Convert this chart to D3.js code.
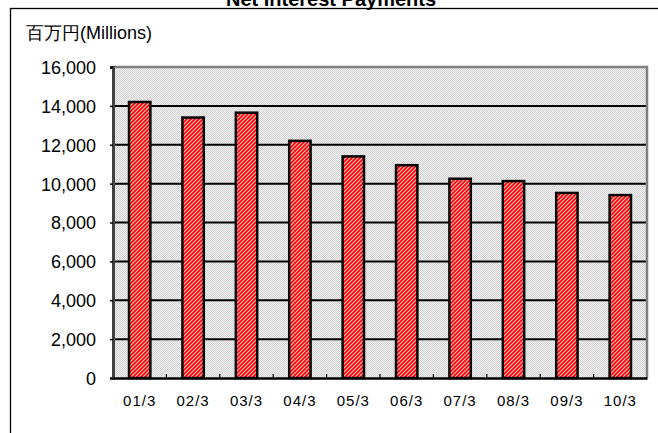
<!DOCTYPE html>
<html>
<head>
<meta charset="utf-8">
<script src="https://cdn.jsdelivr.net/npm/d3@7"></script>
<style>
  body { margin: 0; background: #fff; }
  text { font-family: "Liberation Sans", Arial, sans-serif; fill: #000; }
</style>
</head>
<body>
<script>
(function all (){
  //chart data
  var categories = ["01/3", "02/3", "03/3", "04/3", "05/3", "06/3", "07/3", "08/3", "09/3", "10/3"];
  var payments = [14200, 13400, 13650, 12200, 11400, 10950, 10250, 10130, 9520, 9410];
  var yTicks = [0, 2000, 4000, 6000, 8000, 10000, 12000, 14000, 16000];

  window.onload = drawChart();

  function drawChart(){
    var width = 658, height = 433;
    var plot = {left: 113, top: 67, right: 647, bottom: 378};

    var svg = d3.select("body").append("svg")
      .attr("width", width)
      .attr("height", height);

    var defs = svg.append("defs");

    //dotted gray background of the plot area
    var dots = defs.append("pattern")
      .attr("id", "dots")
      .attr("patternUnits", "userSpaceOnUse")
      .attr("width", 2).attr("height", 2);
    dots.append("rect").attr("width", 2).attr("height", 2).attr("fill", "#efefef");
    dots.append("rect").attr("width", 1).attr("height", 1).attr("fill", "#d4d4d4");
    dots.append("rect").attr("x", 1).attr("y", 1).attr("width", 1).attr("height", 1).attr("fill", "#d4d4d4");

    //red bars with white upward diagonal stripes
    var stripes = defs.append("pattern")
      .attr("id", "stripes")
      .attr("patternUnits", "userSpaceOnUse")
      .attr("width", 4).attr("height", 4);
    stripes.append("rect").attr("width", 4).attr("height", 4).attr("fill", "#ff0000");
    stripes.append("path")
      .attr("d", "M-1,1 L1,-1 M0,4 L4,0 M3,5 L5,3")
      .attr("stroke", "#ffc8c8")
      .attr("stroke-width", 1.1);

    //outer frame
    svg.append("rect")
      .attr("x", 10.5).attr("y", 8.5)
      .attr("width", 660).attr("height", 440)
      .attr("fill", "none")
      .attr("stroke", "#000")
      .attr("stroke-width", 1.3);

    //title, cut at the top like the original
    svg.append("text")
      .attr("x", 331).attr("y", 6)
      .attr("text-anchor", "middle")
      .style("font-size", "20px")
      .style("font-weight", "bold")
      .text("Net Interest Payments");

    //unit label
    svg.append("text")
      .attr("x", 26).attr("y", 39)
      .style("font-size", "18px")
      .text("百万円(Millions)");

    var x = d3.scaleBand()
      .domain(categories)
      .range([plot.left, plot.right])
      .paddingInner(0.6)
      .paddingOuter(0.3);

    var xOuter = d3.scaleBand()
      .domain(categories)
      .range([plot.left, plot.right]);

    var y = d3.scaleLinear()
      .domain([0, 16000])
      .range([plot.bottom, plot.top]);

    //plot area
    svg.append("rect")
      .attr("x", plot.left).attr("y", plot.top)
      .attr("width", plot.right - plot.left)
      .attr("height", plot.bottom - plot.top)
      .attr("fill", "url(#dots)");

    //horizontal grid lines
    svg.append("g")
      .selectAll("line")
      .data(yTicks.slice(1, -1))
      .enter()
      .append("line")
      .attr("x1", plot.left).attr("x2", plot.right)
      .attr("y1", function(d){ return y(d); })
      .attr("y2", function(d){ return y(d); })
      .attr("stroke", "#000")
      .attr("stroke-width", 2);

    //plot border (gray top/right, dark left)
    svg.append("path")
      .attr("d", "M" + plot.left + "," + plot.top + "H" + plot.right + "V" + plot.bottom)
      .attr("fill", "none")
      .attr("stroke", "#808080")
      .attr("stroke-width", 2.5);

    //bars
    svg.append("g")
      .selectAll("rect")
      .data(payments)
      .enter()
      .append("rect")
      .attr("x", function(d, i){ return x(categories[i]); })
      .attr("y", function(d){ return y(d); })
      .attr("width", x.bandwidth())
      .attr("height", function(d){ return y(0) - y(d); })
      .attr("fill", "url(#stripes)")
      .attr("stroke", "#000")
      .attr("stroke-width", 2.5);

    //y axis
    var yAxis = svg.append("g")
      .attr("transform", "translate(" + plot.left + ",0)")
      .call(d3.axisLeft(y).tickValues(yTicks).tickSize(3).tickPadding(14)
        .tickFormat(d3.format(",")));
    yAxis.select(".domain").attr("stroke", "#404040").attr("stroke-width", 3);
    yAxis.selectAll(".tick line").attr("stroke", "#000").attr("stroke-width", 1.5);
    yAxis.selectAll("text").style("font-size", "18px").attr("dy", "0.36em");

    //x axis with ticks between categories
    var xAxis = svg.append("g")
      .attr("transform", "translate(0," + plot.bottom + ")")
      .call(d3.axisBottom(x).tickSize(0).tickPadding(17));
    xAxis.select(".domain").attr("stroke", "#000").attr("stroke-width", 2.5);
    xAxis.selectAll("text")
      .style("font-size", "15px")
      .style("letter-spacing", "1px");

    svg.append("g")
      .selectAll("line")
      .data(categories.slice(1))
      .enter()
      .append("line")
      .attr("x1", function(d){ return xOuter(d); })
      .attr("x2", function(d){ return xOuter(d); })
      .attr("y1", plot.bottom)
      .attr("y2", plot.bottom - 4)
      .attr("stroke", "#000")
      .attr("stroke-width", 1.2);
  }
})();
</script>
</body>
</html>
